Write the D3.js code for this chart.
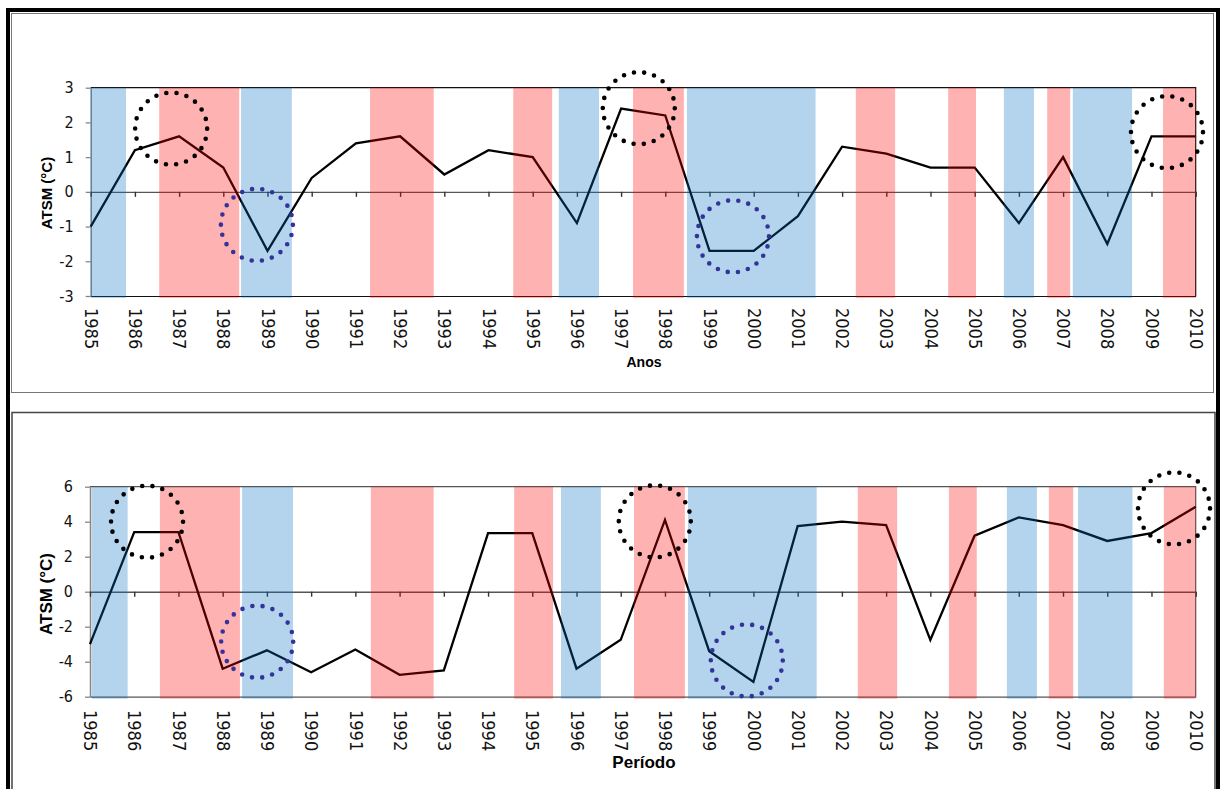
<!DOCTYPE html>
<html>
<head>
<meta charset="utf-8">
<script src="https://cdn.jsdelivr.net/npm/d3@7"></script>
<style>
body{margin:0;background:#fff}
svg{display:block}
.tick text{font-family:"Liberation Sans Narrow","DejaVu Sans Condensed","Liberation Sans",sans-serif;fill:#111}
.ttl{font-family:"Liberation Sans",Arial,sans-serif;font-weight:bold;fill:#000}
</style>
</head>
<body>
<div id="viz"></div>
<script>

var years = [1985,1986,1987,1988,1989,1990,1991,1992,1993,1994,1995,1996,1997,
	1998,1999,2000,2001,2002,2003,2004,2005,2006,2007,2008,2009,2010];

// ATSM (°C) per year, upper panel (Anos) and lower panel (Período)
var atsmTop = [-1.0,1.2,1.6,0.7,-1.7,0.4,1.4,1.6,0.5,1.2,1.0,-0.9,2.4,
	2.2,-1.7,-1.7,-0.7,1.3,1.1,0.7,0.7,-0.9,1.0,-1.5,1.6,1.6];
var atsmBottom = [-3.0,3.4,3.4,-4.4,-3.35,-4.6,-3.3,-4.75,-4.5,3.35,3.35,-4.4,-2.75,
	4.1,-3.4,-5.15,3.75,4.0,3.8,-2.75,3.2,4.25,3.8,2.9,3.35,4.85];

// shaded periods: [start, end, kind]  (cold = blue, warm = red)
var bandsTop = [[1985.0,1985.8,"cold"],[1986.55,1988.36,"warm"],[1988.4,1989.55,"cold"],
	[1991.32,1992.76,"warm"],[1994.56,1995.44,"warm"],[1995.59,1996.5,"cold"],
	[1997.27,1998.42,"warm"],[1998.49,2001.4,"cold"],[2002.31,2003.2,"warm"],
	[2004.4,2005.03,"warm"],[2005.66,2006.34,"cold"],[2006.64,2007.16,"warm"],
	[2007.22,2008.56,"cold"],[2009.26,2010.0,"warm"]];
var bandsBottom = [[1985.04,1985.85,"cold"],[1986.58,1988.39,"warm"],[1988.44,1989.59,"cold"],
	[1991.35,1992.77,"warm"],[1994.59,1995.47,"warm"],[1995.65,1996.55,"cold"],
	[1997.3,1998.45,"warm"],[1998.52,2001.43,"cold"],[2002.36,2003.25,"warm"],
	[2004.42,2005.05,"warm"],[2005.73,2006.41,"cold"],[2006.68,2007.23,"warm"],
	[2007.34,2008.57,"cold"],[2009.28,2010.0,"warm"]];

// dotted rings: [year, value, kind]
var ringsTop = [[1986.82,1.82,"warm"],[1988.76,-0.95,"cold"],[1997.4,2.41,"warm"],
	[1999.53,-1.28,"cold"],[2009.35,1.72,"warm"]];
var ringsBottom = [[1986.29,4.0,"warm"],[1988.78,-2.86,"cold"],[1997.77,4.02,"warm"],
	[1999.85,-3.93,"cold"],[2009.51,4.76,"warm"]];

var yTicksTop = [-3,-2,-1,0,1,2,3];
var yTicksBottom = [-6,-4,-2,0,2,4,6];

var width = 1221, height = 789;

var svg = d3.select("#viz")
	.append("svg")
	.attr("width",width)
	.attr("height",height);

// frames
svg.append("rect").attr("x",8).attr("y",10).attr("width",1210).attr("height",800)
	.attr("fill","none").attr("stroke","#000").attr("stroke-width",4);
svg.append("rect").attr("x",11.5).attr("y",13.5).attr("width",1202).attr("height",379)
	.attr("fill","none").attr("stroke","#777").attr("stroke-width",1);
svg.append("rect").attr("x",12).attr("y",412.5).attr("width",1203).attr("height",400)
	.attr("fill","none").attr("stroke","#444").attr("stroke-width",1.5);

var bandFill = {warm:"rgba(255,0,0,0.3)", cold:"rgba(5,108,192,0.3)"};
var ringColor = {warm:"#000", cold:"#333399"};

var panels = [
	{top:87.7, bot:296, left:90.7, right:1195.7, values:atsmTop, bands:bandsTop, rings:ringsTop,
		yt:yTicksTop, border:"#111", xlab:"Anos", xsz:14, xy:366.7, ysz:15, ycy:193, labOff:12},
	{top:486.7, bot:696.7, left:90, right:1195.7, values:atsmBottom, bands:bandsBottom, rings:ringsBottom,
		yt:yTicksBottom, border:"#555", xlab:"Período", xsz:17, xy:768, ysz:17, ycy:594, labOff:13.3}
];

panels.forEach(p=>{

	var x = d3.scaleLinear().domain([1985,2010]).range([p.left,p.right]);
	var y = d3.scaleLinear().domain([p.yt[0],p.yt[p.yt.length-1]]).range([p.bot,p.top]);

	var g = svg.append("g");

	// plot border (top and right)
	g.append("path")
		.attr("d",`M${x(1985)},${y(p.yt[p.yt.length-1])}H${x(2010)}V${y(p.yt[0])}`)
		.attr("fill","none")
		.attr("stroke",p.border)
		.attr("stroke-width",1.2);

	// y axis
	var ya = g.append("g")
		.attr("transform",`translate(${x(1985)},0)`)
		.call(d3.axisLeft(y).tickValues(p.yt).tickSize(5).tickPadding(12).tickSizeOuter(0)
			.tickFormat(d=>String(d)));
	ya.select(".domain").attr("stroke","#868686").attr("stroke-width",1.5);
	ya.selectAll(".tick line").attr("stroke","#868686").attr("stroke-width",1.3);
	ya.selectAll(".tick text").attr("font-size",16);

	// bottom edge with year labels
	var xa = g.append("g")
		.attr("transform",`translate(0,${y(p.yt[0])})`)
		.call(d3.axisBottom(x).tickValues(years).tickSize(0).tickSizeOuter(0).tickFormat(d3.format("d")));
	xa.select(".domain").attr("stroke",p.border).attr("stroke-width",1.2);
	xa.selectAll(".tick text")
		.attr("font-size",18)
		.attr("transform","rotate(90)")
		.attr("text-anchor","start")
		.attr("x",p.labOff)
		.attr("y",0)
		.attr("dy","0.35em");

	// zero line with ticks
	var za = g.append("g")
		.attr("transform",`translate(0,${y(0)})`)
		.call(d3.axisBottom(x).tickValues(years).tickSize(5).tickSizeOuter(0).tickFormat(""));
	za.select(".domain").attr("stroke","#555").attr("stroke-width",1.4);
	za.selectAll(".tick line").attr("stroke","#333").attr("stroke-width",1.4);

	// series
	var line = d3.line().x((d,i)=>x(years[i])).y(d=>y(d));
	g.append("path")
		.datum(p.values)
		.attr("d",line)
		.attr("fill","none")
		.attr("stroke","#000")
		.attr("stroke-width",2.3)
		.attr("stroke-linejoin","miter");

	// shaded periods, drawn over the line
	g.selectAll("rect.band")
		.data(p.bands)
		.enter()
		.append("rect")
		.attr("class","band")
		.attr("x",d=>x(d[0]))
		.attr("width",d=>x(d[1])-x(d[0]))
		.attr("y",y(p.yt[p.yt.length-1]))
		.attr("height",y(p.yt[0])-y(p.yt[p.yt.length-1])+2)
		.attr("fill",d=>bandFill[d[2]]);

	// dotted rings
	var r = 36, gap = 2*Math.PI*r/22;
	g.selectAll("ellipse")
		.data(p.rings)
		.enter()
		.append("ellipse")
		.attr("cx",d=>x(d[0]))
		.attr("cy",d=>y(d[1]))
		.attr("rx",r)
		.attr("ry",r)
		.attr("fill","none")
		.attr("stroke",d=>ringColor[d[2]])
		.attr("stroke-width",4.6)
		.attr("stroke-linecap","round")
		.attr("stroke-dasharray",`0 ${gap}`);

	// titles
	g.append("text")
		.attr("class","ttl")
		.attr("x",644)
		.attr("y",p.xy)
		.attr("text-anchor","middle")
		.attr("font-size",p.xsz)
		.text(p.xlab);

	g.append("text")
		.attr("class","ttl")
		.attr("transform",`translate(52,${p.ycy}) rotate(-90)`)
		.attr("text-anchor","middle")
		.attr("font-size",p.ysz)
		.text("ATSM (°C)");
});

</script>
</body>
</html>
